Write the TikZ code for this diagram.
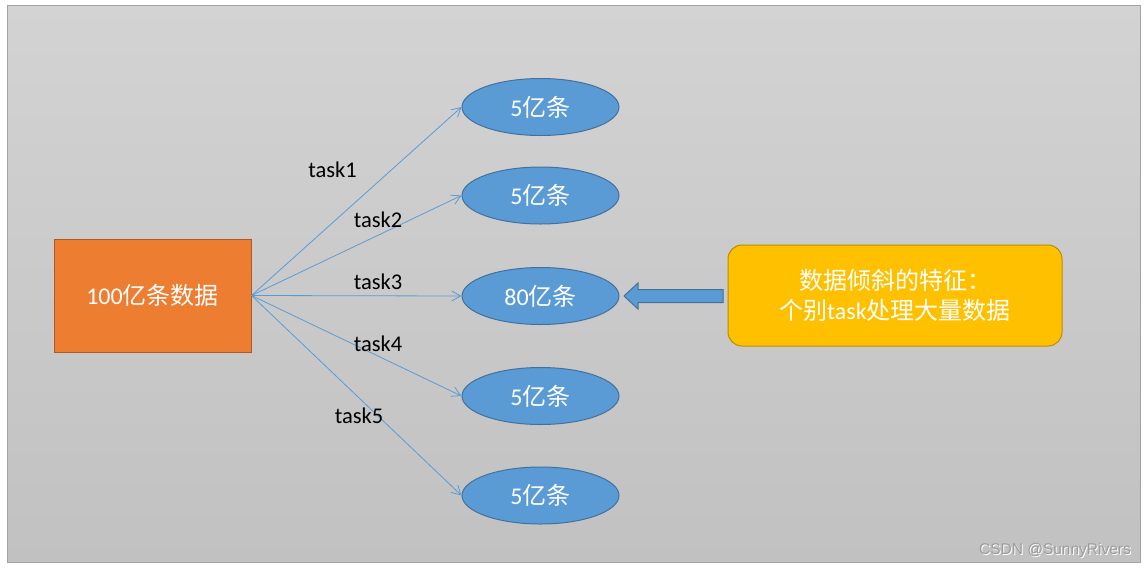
\documentclass[tikz,border=0pt]{standalone}
\usepackage{fontspec}
\setmainfont{Carlito}
\newfontfamily\cjk{Noto Sans CJK SC}
\newfontfamily\marksans{Liberation Sans}
\usetikzlibrary{shapes.geometric,arrows.meta}
\definecolor{panelTop}{HTML}{D3D3D3}
\definecolor{panelBot}{HTML}{C1C1C1}
\definecolor{panelLine}{HTML}{A3A3A3}
\definecolor{partFill}{HTML}{5B9BD5}
\definecolor{partLine}{HTML}{41719C}
\definecolor{srcFill}{HTML}{ED7D31}
\definecolor{srcLine}{HTML}{AE5A21}
\definecolor{noteFill}{HTML}{FFC000}
\definecolor{noteLine}{HTML}{BC8C00}
\definecolor{markGray}{HTML}{9C9C9C}
\begin{document}
\begin{tikzpicture}[x=1pt, y=-1pt,
    part/.style={ellipse, draw=partLine, fill=partFill, line width=1pt, minimum width=157pt, minimum height=57pt, inner sep=0pt, text=white, font=\fontsize{24}{29}\selectfont},
    flow/.style={draw=partFill, line width=0.8pt, -{Straight Barb[length=9pt,width=10pt]}},
    tasklabel/.style={font=\fontsize{22.5}{27}\selectfont}]
    \useasboundingbox (0,0) rectangle (1147,568);
    \shade[top color=panelTop, bottom color=panelBot, draw=panelLine, line width=1pt] (7,5) rectangle (1140,562);

    \node[rectangle, draw=srcLine, fill=srcFill, line width=1pt, minimum width=197pt, minimum height=113pt, text=white, font=\fontsize{24}{29}\selectfont] (src) at (152.5,295.5) {100{\cjk 亿条数据}};

    \node[part] (e1) at (540.5,107) {5{\cjk 亿条}};
    \node[part] (e2) at (540.5,195.5) {5{\cjk 亿条}};
    \node[part] (e3) at (540.5,296) {80{\cjk 亿条}};
    \node[part] (e4) at (540.5,396) {5{\cjk 亿条}};
    \node[part] (e5) at (540.5,495.5) {5{\cjk 亿条}};

    \draw[flow] (src.east) -- (e1.west);
    \draw[flow] (src.east) -- (e2.west);
    \draw[flow] (src.east) -- (e3.west);
    \draw[flow] (src.east) -- (e4.west);
    \draw[flow] (src.east) -- (e5.west);

    \node[tasklabel] (t1) at (332.5,170) {task1};
    \node[tasklabel] (t2) at (378,220) {task2};
    \node[tasklabel] (t3) at (378,282) {task3};
    \node[tasklabel] (t4) at (378,344) {task4};
    \node[tasklabel] (t5) at (359,416) {task5};

    \node[rectangle, rounded corners=14pt, draw=noteLine, fill=noteFill, line width=1pt, minimum width=334pt, minimum height=101pt, align=center, text=white, font=\fontsize{24}{30}\selectfont] (note) at (895,295.5) {{\cjk 数据倾斜的特征：}\\{\cjk 个别}task{\cjk 处理大量数据}};

    % block arrow pointing at the 80 part
    \draw[draw=partLine, fill=partFill, line width=1pt] (624,296) -- (638,283) -- (638,289.5) -- (723,289.5) -- (723,302.5) -- (638,302.5) -- (638,309) -- cycle;

    \node[anchor=base, text=white, font=\marksans\fontsize{15.5}{18}\selectfont] (wmShadow) at (1056,555) {CSDN @SunnyRivers};
    \node[anchor=base, text=markGray, font=\marksans\fontsize{15.5}{18}\selectfont] (wm) at (1055,554) {CSDN @SunnyRivers};
\end{tikzpicture}
\end{document}
